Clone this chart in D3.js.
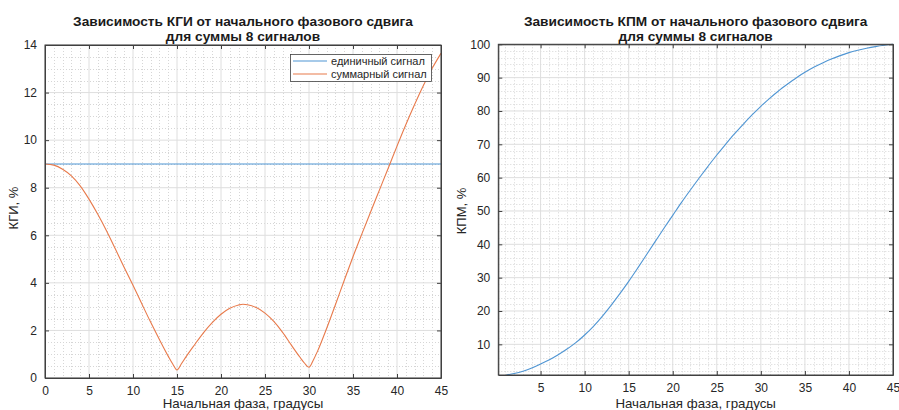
<!DOCTYPE html>
<html><head><meta charset="utf-8">
<script src="https://cdn.jsdelivr.net/npm/d3@7"></script>
<style>
html,body{margin:0;padding:0;background:#fff;}
svg{display:block;font-family:"Liberation Sans",Arial,sans-serif;}
</style></head>
<body>
<svg id="chart" width="899" height="410"></svg>
<script>
// ---- data ----
const kgiPhase = [0,1,2,3,4,5,6,7,8,9,10,11,12,13,14,14.5,15,15.5,16,17,18,19,20,21,22,22.5,23,24,25,26,27,28,29,29.5,30,30.5,31,32,33,34,35,36,37,38,39,40,41,42,43,44,45];
const kgiSum   = [9.0,8.95,8.78,8.5,8.08,7.52,6.88,6.18,5.42,4.65,3.9,3.12,2.35,1.62,0.92,0.6,0.34,0.6,0.88,1.4,1.9,2.33,2.68,2.93,3.07,3.1,3.08,2.96,2.73,2.38,1.92,1.38,0.86,0.62,0.45,0.76,1.15,2.08,3.08,4.1,5.1,6.05,6.98,7.9,8.82,9.75,10.65,11.5,12.3,13.02,13.65];
const kgiSingle = kgiPhase.map(() => 9.0);
const kpmPhase = [1.1,2,3,4,5,6,7,8,9,10,11,12,13,14,15,16,17,18,19,20,21,22,23,24,25,26,27,28,29,30,31,32,33,34,35,36,37,38,39,40,41,42,43,44,45];
const kpmVal   = [0.8,1.25,1.95,2.9,4.1,5.4,6.9,8.6,10.5,12.8,15.4,18.4,21.7,25.2,28.9,32.8,36.8,40.8,44.8,48.7,52.6,56.3,59.9,63.4,66.8,70.0,73.1,76.0,78.8,81.4,83.8,86.0,88.0,89.9,91.6,93.1,94.4,95.6,96.6,97.5,98.2,98.8,99.3,99.7,100];
const kgiXTicks = [0,5,10,15,20,25,30,35,40,45];
const kgiYTicks = [0,2,4,6,8,10,12,14];
const kpmXTicks = [5,10,15,20,25,30,35,40,45];
const kpmYTicks = [10,20,30,40,50,60,70,80,90,100];
const legendLabels = ["единичный сигнал","суммарный сигнал"];
const titles1 = ["Зависимость КГИ от начального фазового сдвига","для суммы 8 сигналов"];
const titles2 = ["Зависимость КПМ от начального фазового сдвига","для суммы 8 сигналов"];
const xLabel = "Начальная фаза, градусы";
const blue = "#4f95d3", orange = "#e87a4b";

const svg = d3.select("#chart");
svg.append("rect").attr("width",899).attr("height",410).attr("fill","#fff");

function panel(o){
  const g = svg.append("g");
  const x = d3.scaleLinear().domain(o.xd).range([o.x0,o.x1]);
  const y = d3.scaleLinear().domain(o.yd).range([o.y1,o.y0]);
  const xMinor = d3.range(Math.ceil(o.xd[0]), o.xd[1]+1e-9, o.xMinorStep).filter(v => !o.xTicks.some(t=>Math.abs(t-v)<1e-6));
  const yMinor = d3.range(Math.ceil(o.yd[0]/o.yMinorStep)*o.yMinorStep, o.yd[1]+1e-9, o.yMinorStep).filter(v => !o.yTicks.some(t=>Math.abs(t-v)<1e-6));
  g.selectAll(".xm").data(xMinor).join("line").attr("x1",d=>Math.round(x(d))+0.5).attr("x2",d=>Math.round(x(d))+0.5)
    .attr("y1",o.y0).attr("y2",o.y1).attr("stroke","#d6d6d6").attr("stroke-dasharray","1,2");
  g.selectAll(".ym").data(yMinor).join("line").attr("y1",d=>Math.round(y(d))+0.5).attr("y2",d=>Math.round(y(d))+0.5)
    .attr("x1",o.x0).attr("x2",o.x1).attr("stroke","#d6d6d6").attr("stroke-dasharray","1,2");
  g.selectAll(".xg").data(o.xTicks).join("line").attr("x1",d=>x(d)).attr("x2",d=>x(d))
    .attr("y1",o.y0).attr("y2",o.y1).attr("stroke","#dedede");
  g.selectAll(".yg").data(o.yTicks).join("line").attr("y1",d=>y(d)).attr("y2",d=>y(d))
    .attr("x1",o.x0).attr("x2",o.x1).attr("stroke","#dedede");
  const line = d3.line().x(d=>x(d[0])).y(d=>y(d[1])).curve(d3.curveMonotoneX);
  o.series.forEach(s=>{
    g.append("path").datum(s.xs.map((v,i)=>[v,s.ys[i]])).attr("d",line)
      .attr("fill","none").attr("stroke",s.color).attr("stroke-width",1.1);
  });
  const ax = g.append("g").attr("transform",`translate(0,${o.y1})`)
    .call(d3.axisBottom(x).tickValues(o.xTicks).tickSizeInner(-4).tickSizeOuter(0).tickPadding(8));
  const axT = g.append("g").attr("transform",`translate(0,${o.y0})`)
    .call(d3.axisTop(x).tickValues(o.xTicks).tickSizeInner(-4).tickSizeOuter(0).tickFormat(""));
  const ay = g.append("g").attr("transform",`translate(${o.x0},0)`)
    .call(d3.axisLeft(y).tickValues(o.yTicks).tickSizeInner(-4).tickSizeOuter(0).tickPadding(8));
  const ayR = g.append("g").attr("transform",`translate(${o.x1},0)`)
    .call(d3.axisRight(y).tickValues(o.yTicks).tickSizeInner(-4).tickSizeOuter(0).tickFormat(""));
  [ax,axT,ay,ayR].forEach(a=>{
    a.select(".domain").attr("stroke","#404040");
    a.selectAll(".tick line").attr("stroke","#404040");
    a.selectAll("text").attr("fill","#262626").style("font-size","12px").style("font-family","'Liberation Sans',Arial,sans-serif");
  });
  g.append("rect").attr("x",o.x0).attr("y",o.y0).attr("width",o.x1-o.x0).attr("height",o.y1-o.y0)
    .attr("fill","none").attr("stroke","#404040");
  o.titles.forEach((t,i)=>{
    g.append("text").attr("x",(o.x0+o.x1)/2).attr("y",25.5+i*15.5).attr("text-anchor","middle")
      .attr("font-weight","bold").attr("font-size","13.7px").attr("fill","#1a1a1a").text(t);
  });
  g.append("text").attr("x",(o.x0+o.x1)/2).attr("y",408).attr("text-anchor","middle")
    .attr("font-size","13.3px").attr("fill","#262626").text(xLabel);
  g.append("text").attr("transform",`translate(${o.ylx},${o.yly}) rotate(-90)`).attr("text-anchor","middle")
    .attr("font-size","13px").attr("fill","#262626").text(o.ylabel);
  return {g,x,y};
}

panel({x0:45,x1:441,y0:45,y1:378,xd:[0,45],yd:[0,14],xTicks:kgiXTicks,yTicks:kgiYTicks,
  xMinorStep:1,yMinorStep:0.5,titles:titles1,ylabel:"КГИ, %",ylx:18,yly:208,
  series:[{xs:kgiPhase,ys:kgiSingle,color:blue},{xs:kgiPhase,ys:kgiSum,color:orange}]});

panel({x0:498.3,x1:893,y0:44.3,y1:375,xd:[0.2,45],yd:[0.8,100],xTicks:kpmXTicks,yTicks:kpmYTicks,
  xMinorStep:1,yMinorStep:2,titles:titles2,ylabel:"КПМ, %",ylx:466,yly:211,
  series:[{xs:kpmPhase,ys:kpmVal,color:blue}]});

const lg = svg.append("g");
lg.append("rect").attr("x",290.5).attr("y",54.5).attr("width",141).attr("height",27)
  .attr("fill","#fff").attr("stroke","#404040").attr("stroke-width",0.8);
[blue,orange].forEach((c,i)=>{
  const yy = 61 + i*13;
  lg.append("line").attr("x1",293).attr("x2",327).attr("y1",yy).attr("y2",yy).attr("stroke",c).attr("stroke-width",1.1);
  lg.append("text").attr("x",331).attr("y",yy+4).attr("font-size","11px").attr("fill","#262626").text(legendLabels[i]);
});
</script>
</body></html>
